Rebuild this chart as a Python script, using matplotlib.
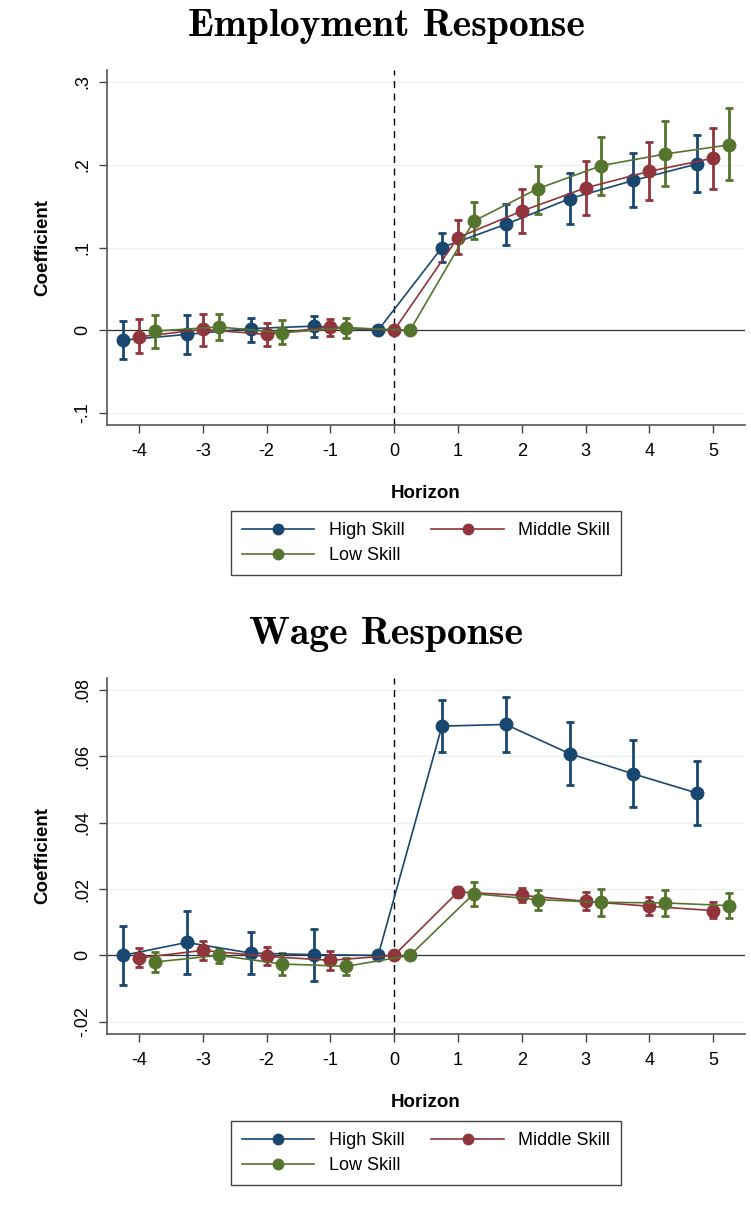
import numpy as np
import matplotlib
matplotlib.use("Agg")
import matplotlib.pyplot as plt
from matplotlib.lines import Line2D

plt.rcParams['font.family'] = ['Liberation Sans', 'DejaVu Sans']

# horizons and per-group offsets
horizon = np.array([-4, -3, -2, -1, 0, 1, 2, 3, 4, 5])
offsets = {"High Skill": -0.25, "Middle Skill": 0.0, "Low Skill": 0.25}
colors = {"High Skill": "#1a476f", "Middle Skill": "#90353b", "Low Skill": "#55752f"}

# Employment response: point estimate, lower and upper CI
emp_high = [-0.012, -0.005, 0.002, 0.005, 0.0, 0.100, 0.128, 0.159, 0.181, 0.201]
emp_high_lo = [-0.035, -0.029, -0.014, -0.008, 0.0, 0.082, 0.103, 0.128, 0.149, 0.167]
emp_high_hi = [0.011, 0.019, 0.015, 0.017, 0.0, 0.118, 0.153, 0.190, 0.214, 0.236]

emp_mid = [-0.008, 0.001, -0.005, 0.004, 0.0, 0.112, 0.144, 0.172, 0.192, 0.208]
emp_mid_lo = [-0.028, -0.019, -0.019, -0.007, 0.0, 0.092, 0.117, 0.139, 0.157, 0.171]
emp_mid_hi = [0.013, 0.020, 0.009, 0.014, 0.0, 0.133, 0.171, 0.205, 0.227, 0.245]

emp_low = [-0.001, 0.004, -0.003, 0.003, 0.0, 0.132, 0.171, 0.199, 0.213, 0.224]
emp_low_lo = [-0.021, -0.012, -0.017, -0.009, 0.0, 0.110, 0.141, 0.164, 0.174, 0.182]
emp_low_hi = [0.019, 0.020, 0.012, 0.015, 0.0, 0.155, 0.199, 0.234, 0.253, 0.268]

# Wage response
wage_high = [0.0, 0.0039, 0.0007, 0.0002, 0.0, 0.0691, 0.0696, 0.0608, 0.0547, 0.0489]
wage_high_lo = [-0.0088, -0.0056, -0.0056, -0.0076, 0.0, 0.0612, 0.0613, 0.0515, 0.0448, 0.0392]
wage_high_hi = [0.0090, 0.0133, 0.0069, 0.0078, 0.0, 0.0771, 0.0778, 0.0704, 0.0648, 0.0585]

wage_mid = [-0.0008, 0.0015, -0.0003, -0.0015, 0.0, 0.0191, 0.0181, 0.0163, 0.0148, 0.0135]
wage_mid_lo = [-0.0036, -0.0013, -0.0030, -0.0043, 0.0, 0.0175, 0.0160, 0.0138, 0.0121, 0.0113]
wage_mid_hi = [0.0022, 0.0042, 0.0025, 0.0012, 0.0, 0.0206, 0.0203, 0.0190, 0.0176, 0.0161]

wage_low = [-0.0020, 0.0000, -0.0026, -0.0033, 0.0, 0.0186, 0.0168, 0.0160, 0.0158, 0.0150]
wage_low_lo = [-0.0050, -0.0023, -0.0060, -0.0058, 0.0, 0.0150, 0.0138, 0.0118, 0.0118, 0.0113]
wage_low_hi = [0.0009, 0.0019, 0.0007, -0.0009, 0.0, 0.0221, 0.0198, 0.0201, 0.0198, 0.0188]

emp_yticks = [-0.1, 0.0, 0.1, 0.2, 0.3]
emp_ylabels = ["-.1", "0", ".1", ".2", ".3"]
wage_yticks = [-0.02, 0.0, 0.02, 0.04, 0.06, 0.08]
wage_ylabels = ["-.02", "0", ".02", ".04", ".06", ".08"]

W, H = 751, 1215
fig = plt.figure(figsize=(W / 100, H / 100), dpi=100)
fig.patch.set_facecolor("white")


def panel(top_px, bottom_px, title, title_y, series, yticks, ylabels, ylim,
          legend_y):
    ax = fig.add_axes([107 / W, 1 - bottom_px / H, (745 - 107) / W,
                       (bottom_px - top_px) / H])
    for y in yticks:
        ax.axhline(y, color="#eaf2f3", lw=1.0, zorder=0)
    ax.axhline(0, color="#333333", lw=0.9, zorder=1)
    ax.axvline(0, color="black", lw=1.0, ls=(0, (5, 4)), zorder=1)

    for name, (est, lo, hi) in series.items():
        est = np.array(est)
        x = horizon + offsets[name]
        yerr = [est - np.array(lo), np.array(hi) - est]
        mask = horizon != 0
        ax.errorbar(x[mask], est[mask], yerr=[yerr[0][mask], yerr[1][mask]],
                    fmt="none", ecolor=colors[name], elinewidth=2.0,
                    capsize=3.2, capthick=2.0, zorder=3)
        ax.plot(x, est, color=colors[name], lw=1.2, marker="o", ms=9,
                zorder=4)

    ax.set_xlim(-4.5, 5.5)
    ax.set_ylim(*ylim)
    ax.set_xticks(horizon)
    ax.set_xticklabels([str(h) for h in horizon], fontsize=13)
    ax.set_yticks(yticks)
    ax.set_yticklabels(ylabels, fontsize=13, rotation=90, va="center")
    ax.tick_params(direction="out", length=6, width=1, color="#444444")
    ax.tick_params(axis="x", pad=7)
    ax.tick_params(axis="y", pad=5)
    for s in ["top", "right"]:
        ax.spines[s].set_visible(False)
    for s in ["left", "bottom"]:
        ax.spines[s].set_color("#555555")
        ax.spines[s].set_linewidth(1.2)
    ax.set_xlabel("Horizon", fontsize=13.5, fontweight="bold", labelpad=18)
    ax.set_ylabel("Coefficient", fontsize=13.5, fontweight="bold", labelpad=17)
    fig.text(386 / W, 1 - title_y / H, title, family="cmb10", fontsize=28.5,
             ha="center", va="center")

    handles = [Line2D([], [], color=colors[n], lw=1.2, marker="o", ms=7.5)
               for n in ["High Skill", "Low Skill", "Middle Skill"]]
    leg = ax.legend(handles, ["High Skill", "Low Skill", "Middle Skill"],
                    ncol=2, loc="center", bbox_to_anchor=(426 / W, 1 - legend_y / H),
                    bbox_transform=fig.transFigure, fontsize=13,
                    handlelength=4.0, fancybox=False, edgecolor="#444444",
                    framealpha=1, columnspacing=1.5, labelspacing=0.45,
                    borderpad=0.6)
    leg.get_frame().set_linewidth(1.0)
    return ax


panel(70, 425, "Employment Response", 27,
      {"High Skill": (emp_high, emp_high_lo, emp_high_hi),
       "Middle Skill": (emp_mid, emp_mid_lo, emp_mid_hi),
       "Low Skill": (emp_low, emp_low_lo, emp_low_hi)},
      emp_yticks, emp_ylabels, (-0.1145, 0.3145), 543)

panel(678, 1034, "Wage Response", 635,
      {"High Skill": (wage_high, wage_high_lo, wage_high_hi),
       "Middle Skill": (wage_mid, wage_mid_lo, wage_mid_hi),
       "Low Skill": (wage_low, wage_low_lo, wage_low_hi)},
      wage_yticks, wage_ylabels, (-0.0237, 0.0836), 1153)

fig.savefig("out.png", dpi=100)
